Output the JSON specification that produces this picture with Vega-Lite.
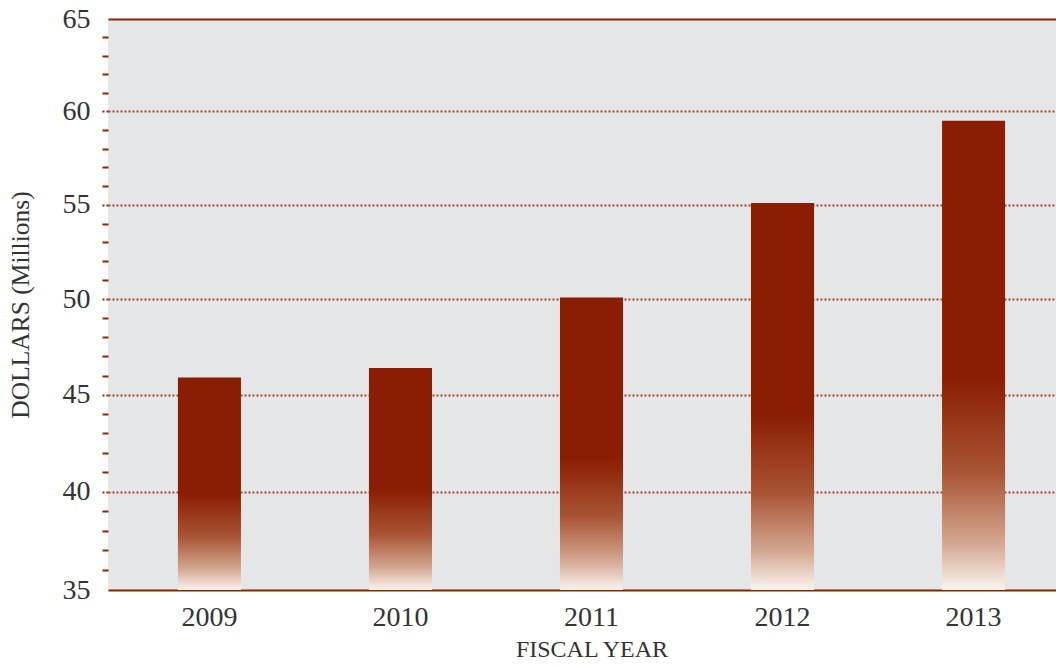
{
  "$schema": "https://vega.github.io/schema/vega-lite/v6.json",
  "width": 967,
  "height": 571,
  "autosize": {"type": "none"},
  "padding": {"left": 108, "top": 19, "right": -19, "bottom": 77},
  "background": "#ffffff",
  "config": {
    "view": {"fill": "#E5E6E8", "stroke": null},
    "font": "Liberation Serif"
  },
  "data": {
    "values": [
      {"year": "2009", "dollars": 45.9},
      {"year": "2010", "dollars": 46.4},
      {"year": "2011", "dollars": 50.1},
      {"year": "2012", "dollars": 55.1},
      {"year": "2013", "dollars": 59.5}
    ]
  },
  "mark": {
    "type": "bar",
    "fill": {
      "gradient": "linear",
      "x1": 0, "y1": 0, "x2": 0, "y2": 1,
      "stops": [
        {"offset": 0, "color": "#8B1E02"},
        {"offset": 0.55, "color": "#8B1E02"},
        {"offset": 0.75, "color": "#A95535"},
        {"offset": 0.9, "color": "#D3A791"},
        {"offset": 1, "color": "#FBF4F0"}
      ]
    },
    "stroke": null
  },
  "encoding": {
    "x": {
      "field": "year",
      "type": "ordinal",
      "scale": {"paddingInner": 0.67, "paddingOuter": 0.366},
      "axis": {
        "title": "FISCAL YEAR",
        "titleFont": "Liberation Serif",
        "titleFontSize": 24,
        "titleFontWeight": "normal",
        "titleColor": "#333333",
        "titlePadding": 6,
        "labelFont": "Liberation Serif",
        "labelFontSize": 28,
        "labelColor": "#333333",
        "labelAngle": 0,
        "labelPadding": 13,
        "domain": false,
        "ticks": false,
        "grid": false
      }
    },
    "y": {
      "field": "dollars",
      "type": "quantitative",
      "scale": {"type": "pow", "exponent": 0.88, "domain": [35, 65], "zero": false, "nice": false},
      "axis": {
        "title": "DOLLARS (Millions)",
        "titleFont": "Liberation Serif",
        "titleFontSize": 25.5,
        "titleFontWeight": "normal",
        "titleColor": "#333333",
        "titlePadding": 29,
        "values": [35,36,37,38,39,40,41,42,43,44,45,46,47,48,49,50,51,52,53,54,55,56,57,58,59,60,61,62,63,64,65],
        "labelExpr": "datum.value % 5 == 0 ? datum.label : ''",
        "labelOverlap": false,
        "labelFont": "Liberation Serif",
        "labelFontSize": 28,
        "labelColor": "#333333",
        "labelPadding": 12,
        "domain": false,
        "tickSize": 6,
        "tickWidth": 2,
        "tickColor": "#8B2500",
        "tickDash": {"condition": {"test": "datum.value % 5 == 0", "value": [2, 2]}, "value": []},
        "tickOpacity": {"condition": {"test": "datum.value == 35 || datum.value == 65", "value": 0}, "value": 1},
        "grid": true,
        "gridColor": {"condition": {"test": "datum.value == 35 || datum.value == 65", "value": "#8B2500"}, "value": "#A0452A"},
        "gridWidth": 2,
        "gridDash": {"condition": {"test": "datum.value == 35 || datum.value == 65", "value": []}, "value": [2, 2]},
        "gridOpacity": {"condition": {"test": "datum.value % 5 == 0", "value": 1}, "value": 0}
      }
    },
    "y2": {"datum": 35}
  }
}
